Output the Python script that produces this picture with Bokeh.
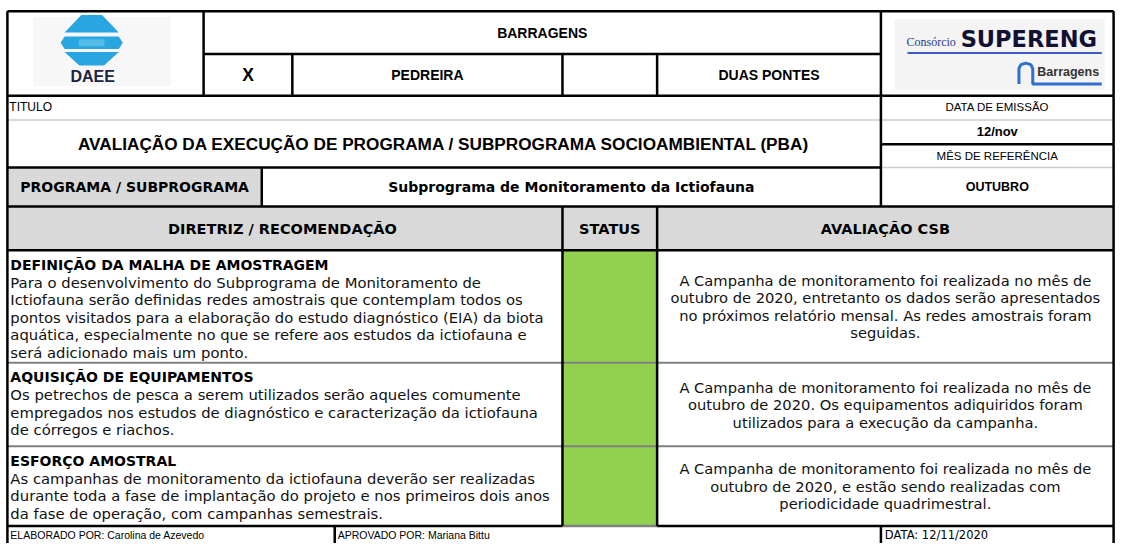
from bokeh.plotting import figure
from bokeh.models import Range1d
from bokeh.core.properties import value
from bokeh.embed import file_html
from bokeh.resources import INLINE

# ---------------- content (data) ----------------
header_title = "BARRAGENS"
header_options = ["X", "PEDREIRA", "", "DUAS PONTES"]
titulo_label = "TITULO"
main_title = "AVALIAÇÃO DA EXECUÇÃO DE PROGRAMA / SUBPROGRAMA SOCIOAMBIENTAL (PBA)"
emissao_label = "DATA DE EMISSÃO"
emissao_value = "12/nov"
referencia_label = "MÊS DE REFERÊNCIA"
referencia_value = "OUTUBRO"
programa_label = "PROGRAMA / SUBPROGRAMA"
programa_value = "Subprograma de Monitoramento da Ictiofauna"
col_headers = ["DIRETRIZ  / RECOMENDAÇÃO", "STATUS", "AVALIAÇÃO CSB"]

row_titles = ["DEFINIÇÃO DA MALHA DE AMOSTRAGEM",
              "AQUISIÇÃO DE EQUIPAMENTOS",
              "ESFORÇO AMOSTRAL"]
row_bodies = [
    ["Para o desenvolvimento do Subprograma de Monitoramento de",
     "Ictiofauna serão definidas redes amostrais que contemplam todos os",
     "pontos visitados para a elaboração do estudo diagnóstico (EIA) da biota",
     "aquática, especialmente no que se refere aos estudos da ictiofauna e",
     "será adicionado mais um ponto."],
    ["Os petrechos de pesca a serem utilizados serão aqueles comumente",
     "empregados nos estudos de diagnóstico e caracterização da ictiofauna",
     "de córregos e riachos."],
    ["As campanhas de monitoramento da ictiofauna deverão ser realizadas",
     "durante toda a fase de implantação do projeto e nos primeiros dois anos",
     "da fase de operação, com campanhas semestrais."],
]
row_status = ["ok", "ok", "ok"]
row_evaluation = [
    ["A Campanha de monitoramento foi realizada no mês de",
     "outubro de 2020, entretanto os dados serão apresentados",
     "no próximos relatório mensal. As redes amostrais foram",
     "seguidas."],
    ["A Campanha de monitoramento foi realizada no mês de",
     "outubro de 2020. Os equipamentos adiquiridos foram",
     "utilizados para a execução da campanha."],
    ["A Campanha de monitoramento foi realizada no mês de",
     "outubro de 2020, e estão sendo realizadas com",
     "periodicidade quadrimestral."],
]
footer_texts = ["ELABORADO POR: Carolina de Azevedo",
                "APROVADO POR: Mariana Bittu",
                "DATA: 12/11/2020"]

# ---------------- layout geometry (reference pixels) ----------------
L, R, T = 7, 1129, 11
x_logo, x_x, x_ped, x_blank, x_right = 206, 296, 570, 666, 893
y_h1, y_h2 = 55, 98
y_tit, y_title_b = 123, 172
y_emis_b = 148
x_prog = 265
y_prog_b = 212
y_colh_b = 257
row_tops = [257, 373, 459]
row_bots = [373, 459, 541]
x_stat_l, x_stat_r = 570, 666
x_foot1, x_foot2 = 339, 893
y_foot = 559

BLACK = "#000000"
GRAY_FILL = "#d9d9d9"
GREEN = "#92d050"
MID_GRAY = "#808080"
LIGHT_GRAY = "#cccccc"

W, H = 1120, 543
p = figure(width=W, height=H, output_backend="svg", toolbar_location=None,
           x_range=Range1d(0, 1136), y_range=Range1d(559, 0),
           min_border=0, border_fill_color="white", background_fill_color="white")
p.axis.visible = False
p.grid.visible = False
p.outline_line_color = None

HEAD = "Liberation Sans"
BODY = "DejaVu Sans"

# ---------------- fills ----------------
p.quad(left=[L, L], right=[x_prog, R], top=[y_title_b, y_prog_b], bottom=[y_prog_b, y_colh_b],
       fill_color=GRAY_FILL, line_color=None)
p.quad(left=[x_stat_l] * len(row_status), right=[x_stat_r] * len(row_status),
       top=row_tops, bottom=row_bots, fill_color=GREEN, line_color=None)

# ---------------- logo: DAEE ----------------
p.quad(left=[33], right=[173], top=[17], bottom=[88], fill_color="#f7f7f7", line_color=None)
blue = "#29a6df"
cx = 92.5
p.patch([cx - 10.5, cx + 10.5, cx + 27.5, cx - 27.5], [15, 15, 33, 33], fill_color=blue, line_color=None)
p.patch([cx - 27.5, cx + 27.5, cx + 12.5, cx - 12.5], [53, 53, 67, 67], fill_color=blue, line_color=None)
p.patch([cx - 27.5, cx + 27.5, cx + 31.5, cx + 27.5, cx - 27.5, cx - 31.5], [37, 37, 43.5, 50, 50, 43.5],
        fill_color=blue, line_color=None)
p.quad(left=[cx - 13], right=[cx + 13], top=[40], bottom=[47], fill_color="#55bbe8", line_color=None)
p.text(x=[cx + 1], y=[78], text=["DAEE"], text_font=value(HEAD), text_font_style="bold",
       text_font_size="16px", text_color="#1c2340", text_align="center", text_baseline="middle")

# ---------------- logo: SUPERENG ----------------
p.quad(left=[907], right=[1120], top=[19], bottom=[92], fill_color="#f4f4f4", line_color=None)
p.text(x=[944], y=[43], text=["Consórcio"], text_font=value("Liberation Serif"),
       text_font_size="12px", text_color="#2a3b8c", text_align="center", text_baseline="middle")
p.text(x=[1043], y=[40], text=["SUPERENG"], text_font=value("DejaVu Sans"), text_font_style="bold",
       text_font_size="22.5px", text_color="#111133", text_align="center", text_baseline="middle")
p.segment(x0=[920], y0=[54], x1=[1117], y1=[54], line_color="#3b5cc4", line_width=2)
p.line(x=[1033, 1033, 1035, 1040, 1045, 1047, 1047, 1117], y=[86, 70, 66, 64.5, 66, 70, 86, 86],
       line_color="#2f6fd0", line_width=3)
p.text(x=[1083], y=[74], text=["Barragens"], text_font=value(HEAD), text_font_style="bold",
       text_font_size="12.5px", text_color="#333333", text_align="center", text_baseline="middle")

# ---------------- lines ----------------
def seg(x0, y0, x1, y1, color=BLACK, width=2.5):
    p.segment(x0=x0, y0=y0, x1=x1, y1=y1, line_color=color, line_width=width)

# light gray lines
seg([L, x_right], [y_tit, y_tit], [x_right, R], [y_tit, y_tit], LIGHT_GRAY, 1.5)
seg([x_right], [y_title_b], [R], [y_title_b], LIGHT_GRAY, 1.5)
# medium gray separators of body rows
seg([L] * 2, row_bots[:2], [R] * 2, row_bots[:2], MID_GRAY, 2)
seg([x_stat_l], [row_bots[2]], [x_stat_r], [row_bots[2]], MID_GRAY, 2.5)

# black lines: horizontals
seg([L, x_logo, L, x_right, L, L, L, L, x_stat_r],
    [T, y_h1, y_h2, y_emis_b, y_title_b, y_prog_b, y_colh_b, row_bots[2], row_bots[2]],
    [R, x_right, R, R, x_right, R, R, x_stat_l, R],
    [T, y_h1, y_h2, y_emis_b, y_title_b, y_prog_b, y_colh_b, row_bots[2], row_bots[2]])
# black lines: verticals
seg([L, R, x_logo, x_x, x_ped, x_blank, x_right, x_prog, x_stat_l, x_stat_r, x_foot1, x_foot2],
    [T, T, T, y_h1, y_h1, y_h1, T, y_title_b, y_prog_b, y_prog_b, row_bots[2], row_bots[2]],
    [L, R, x_logo, x_x, x_ped, x_blank, x_right, x_prog, x_stat_l, x_stat_r, x_foot1, x_foot2],
    [y_foot, y_foot, y_h2, y_h2, y_h2, y_h2, y_prog_b, y_prog_b, row_bots[2], row_bots[2],
     y_foot, y_foot])

# ---------------- texts ----------------
def txt(x, y, s, font=HEAD, size="13px", style="normal", align="center", color="#000000"):
    p.text(x=[x], y=[y], text=[s], text_font=value(font), text_font_size=size,
           text_font_style=style, text_align=align, text_baseline="middle", text_color=color)

txt((x_logo + x_right) / 2, 33, header_title, size="14px", style="bold")
opt_x = [(x_logo + x_x) / 2, (x_x + x_ped) / 2, (x_ped + x_blank) / 2, (x_blank + x_right) / 2]
for xo, s in zip(opt_x, header_options):
    if s:
        txt(xo, 77, s, size="17.5px" if s == "X" else "14px", style="bold")

txt(9, 110, titulo_label, size="12px", align="left")
xr = (x_right + R) / 2
txt(xr, 110, emissao_label, size="11.5px")
txt((L + x_right) / 2, 148, main_title, size="17.2px", style="bold")
txt(xr, 135, emissao_value, size="13px", style="bold")
txt(xr, 160, referencia_label, size="11.5px")
txt(xr, 192, referencia_value, size="12.5px", style="bold")

txt((L + x_prog) / 2, 192, programa_label, font=BODY, size="14px", style="bold")
txt((x_prog + x_right) / 2, 192, programa_value, font=BODY, size="14px", style="bold")

txt((L + x_stat_l) / 2, 235, col_headers[0], font=BODY, size="14.5px", style="bold")
txt((x_stat_l + x_stat_r) / 2, 235, col_headers[1], font=BODY, size="14.5px", style="bold")
txt((x_stat_r + R) / 2, 235, col_headers[2], font=BODY, size="14.5px", style="bold")

LS = 18
for top, bot, title, body, ev in zip(row_tops, row_bots, row_titles, row_bodies, row_evaluation):
    txt(10, top + 15, title, font=BODY, size="14px", style="bold", align="left")
    for i, line in enumerate(body):
        txt(10, top + 15 + LS * (i + 1), line, font=BODY, size="14.8px", align="left", color="#111111")
    mid = (top + bot) / 2
    n = len(ev)
    for i, line in enumerate(ev):
        txt((x_stat_r + R) / 2, mid + (i - (n - 1) / 2) * LS, line, font=BODY, size="14.7px",
            color="#111111")

txt(10, 550, footer_texts[0], size="10.5px", align="left")
txt(x_foot1 + 3, 550, footer_texts[1], size="10.5px", align="left")
txt(x_foot2 + 4, 550, footer_texts[2], font=BODY, size="11.5px", align="left")

open("out.html", "w").write(file_html(p, INLINE))
